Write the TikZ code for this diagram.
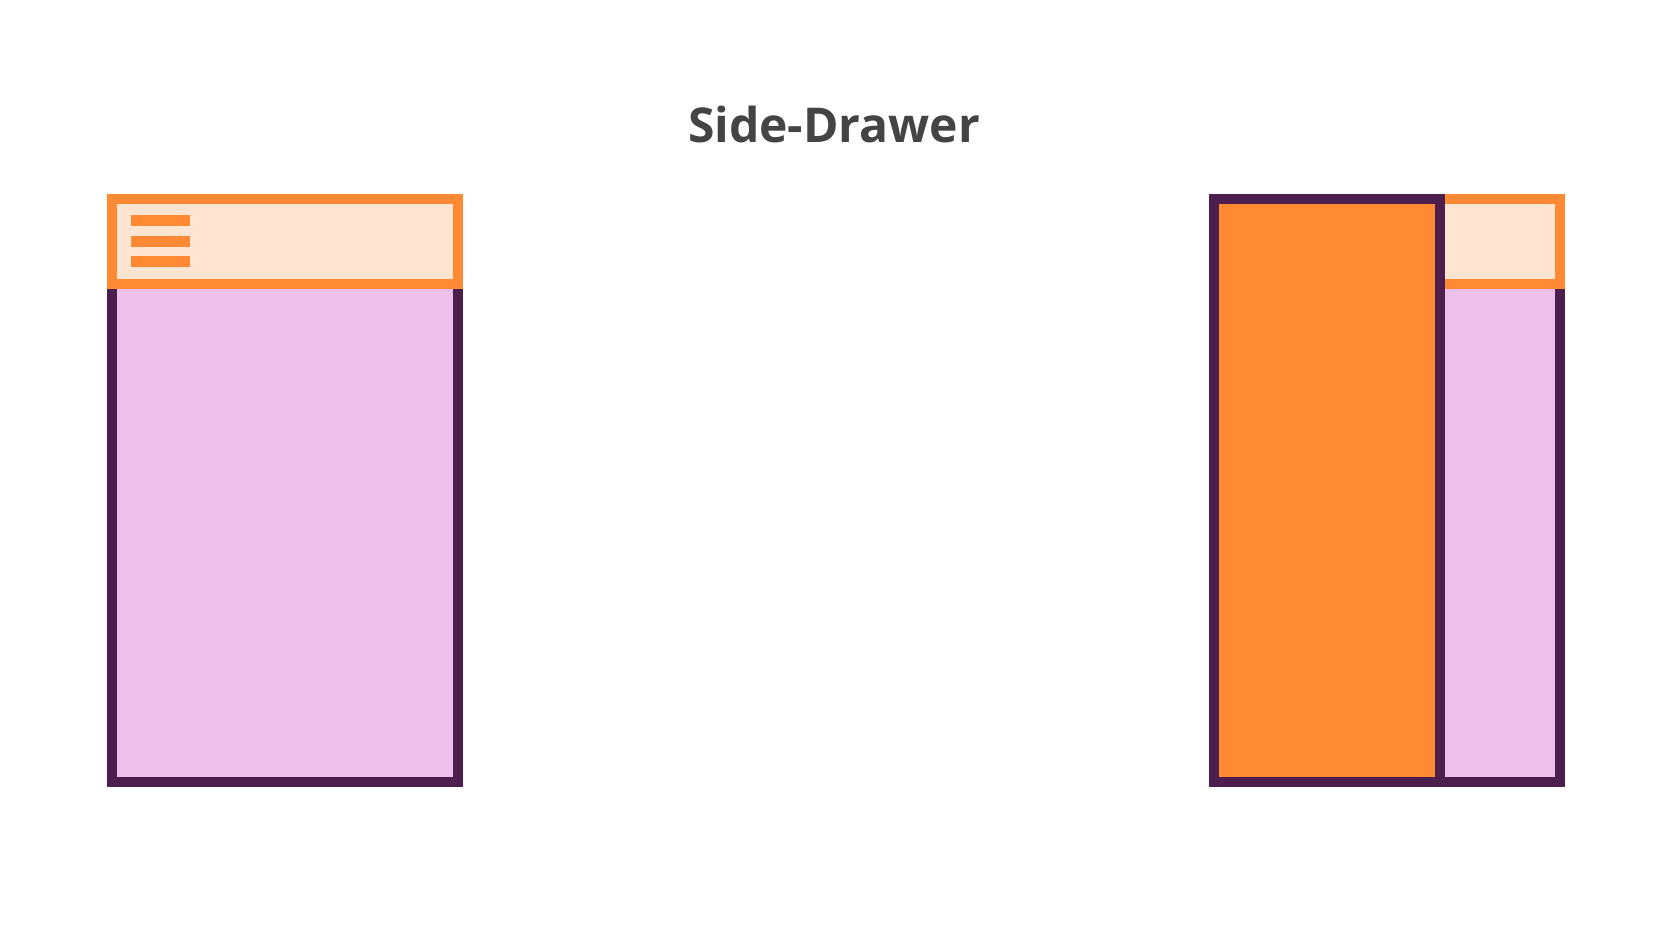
\documentclass[tikz,border=0pt]{standalone}
\usepackage{fontspec}
\setmainfont{Open Sans}
\definecolor{orng}{HTML}{FF8A33}
\definecolor{peach}{HTML}{FFE4D2}
\definecolor{plum}{HTML}{4C1E4E}
\definecolor{lav}{HTML}{ECC0EA}
\definecolor{ttl}{HTML}{444444}
\begin{document}
\begin{tikzpicture}[x=1pt,y=-1pt,
  bodybox/.style={fill=lav,draw=plum,line width=10pt},
  headbox/.style={fill=peach,draw=orng,line width=10pt},
  drawerbox/.style={fill=orng,draw=plum,line width=10pt},
  bar/.style={fill=orng}]
\useasboundingbox[fill=white] (0,0) rectangle (1670,941);
\node[text=ttl,font=\fontsize{48}{54}\selectfont\bfseries,anchor=base,inner sep=0pt] (title) at (834,143) {Side-Drawer};
% left phone
\draw[bodybox] (112.3,283.7) rectangle (457.7,781.7);
\draw[headbox] (112.3,199) rectangle (457.7,283.7);
\fill[bar] (130.7,215) rectangle (190,226);
\fill[bar] (130.7,236) rectangle (190,247);
\fill[bar] (130.7,256.5) rectangle (190,267.5);
% right phone
\draw[bodybox] (1214.3,283.7) rectangle (1560,781.7);
\draw[headbox] (1214.3,199) rectangle (1560,283.7);
\draw[drawerbox] (1214.3,199) rectangle (1440,781.7);
\end{tikzpicture}
\end{document}
